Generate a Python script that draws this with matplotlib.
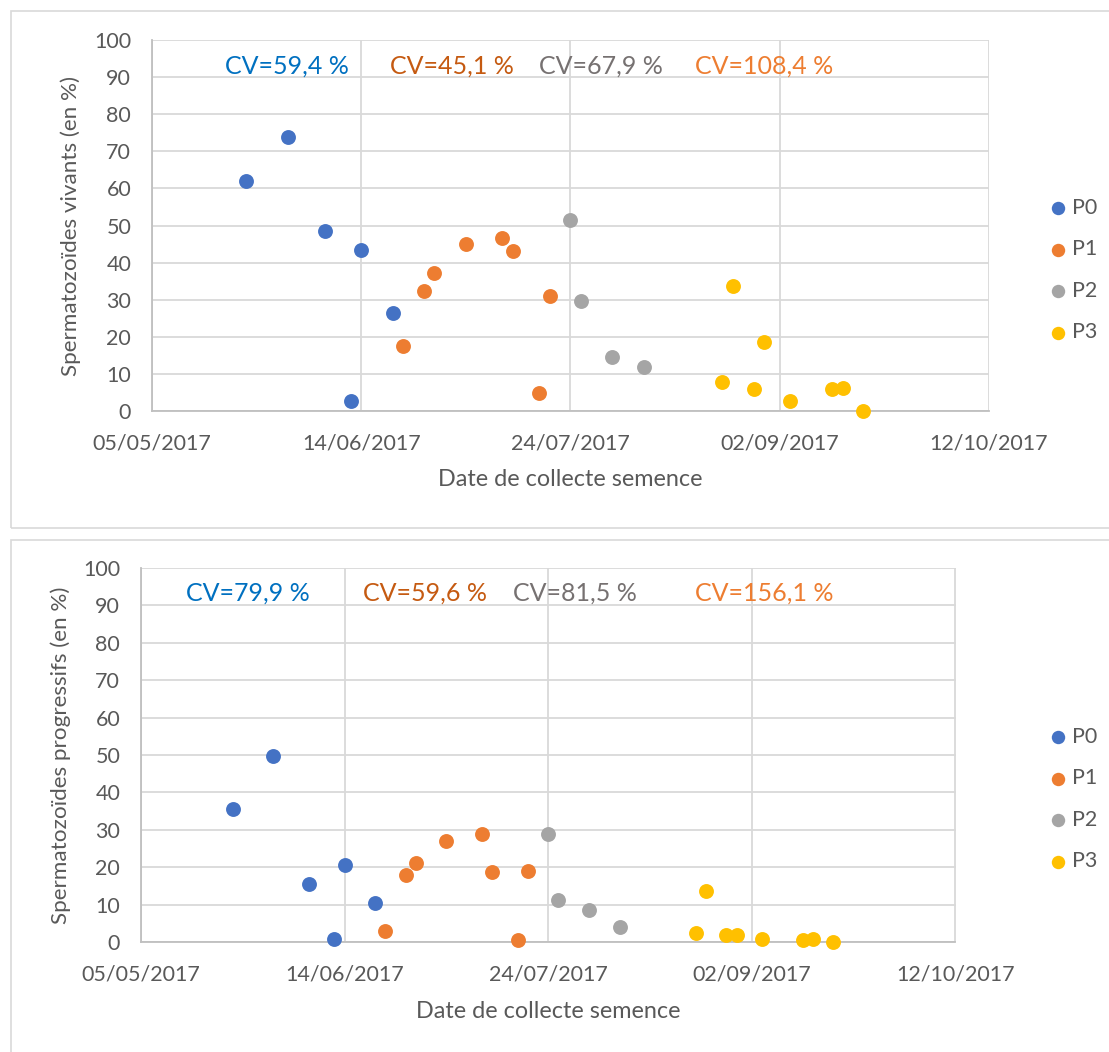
import matplotlib
matplotlib.use("Agg")
import matplotlib.pyplot as plt
import matplotlib.dates as mdates
from matplotlib.patches import Rectangle
from datetime import datetime

plt.rcParams['font.family'] = ['Lato', 'DejaVu Sans']

# ---- data ----
series_names = ["P0", "P1", "P2", "P3"]
colors = ["#4472C4", "#ED7D31", "#A5A5A5", "#FFC000"]

p0_dates = ["23/05/2017", "31/05/2017", "07/06/2017", "12/06/2017", "14/06/2017", "20/06/2017"]
p1_dates = ["22/06/2017", "26/06/2017", "28/06/2017", "04/07/2017", "11/07/2017", "13/07/2017", "18/07/2017", "20/07/2017"]
p2_dates = ["24/07/2017", "26/07/2017", "01/08/2017", "07/08/2017"]
p3_dates = ["22/08/2017", "24/08/2017", "28/08/2017", "30/08/2017", "04/09/2017", "12/09/2017", "14/09/2017", "18/09/2017"]

vivants_p0 = [62.1, 73.8, 48.5, 2.8, 43.4, 26.4]
vivants_p1 = [17.5, 32.4, 37.1, 45.0, 46.5, 43.2, 4.9, 31.0]
vivants_p2 = [51.4, 29.7, 14.5, 11.9]
vivants_p3 = [7.7, 33.7, 5.9, 18.5, 2.8, 5.9, 6.3, 0.0]

progressifs_p0 = [35.6, 49.6, 15.5, 0.8, 20.7, 10.4]
progressifs_p1 = [3.0, 17.8, 21.2, 27.0, 28.8, 18.6, 0.45, 18.9]
progressifs_p2 = [29.0, 11.2, 8.6, 4.1]
progressifs_p3 = [2.5, 13.7, 1.8, 2.0, 0.8, 0.5, 0.8, 0.0]

cv_vivants = ["CV=59,4 %", "CV=45,1 %", "CV=67,9 %", "CV=108,4 %"]
cv_progressifs = ["CV=79,9 %", "CV=59,6 %", "CV=81,5 %", "CV=156,1 %"]
cv_colors = ["#0070C0", "#C55A11", "#767171", "#ED7D31"]

x_ticks = ["05/05/2017", "14/06/2017", "24/07/2017", "02/09/2017", "12/10/2017"]
y_ticks = [0, 10, 20, 30, 40, 50, 60, 70, 80, 90, 100]

ylabel_top = "Spermatozoïdes vivants (en %)"
ylabel_bot = "Spermatozoïdes progressifs (en %)"
xlabel = "Date de collecte semence"

def to_num(lst):
    return [mdates.date2num(datetime.strptime(d, "%d/%m/%Y")) for d in lst]

all_dates = [p0_dates, p1_dates, p2_dates, p3_dates]

W, H = 1109, 1052
fig = plt.figure(figsize=(W / 100, H / 100), dpi=100)

def fx(px):
    return px / W

def fy(py):
    return 1 - py / H

# chart area boxes
for (top, bot) in [(11, 528), (540, 1060)]:
    fig.patches.append(Rectangle((fx(10.5), fy(bot)), fx(1200), fy(top) - fy(bot),
                                 transform=fig.transFigure, fill=False,
                                 edgecolor="#D9D9D9", linewidth=1.2))

text_col = "#595959"

def make_panel(rect_px, values, cvs, cv_x, cv_y, ylabel, ylab_x, xlab_y, leg_y):
    l, t, r, b = rect_px
    ax = fig.add_axes([fx(l), fy(b), fx(r - l), fy(t) - fy(b)])
    xt = to_num(x_ticks)
    for name, col, dts, vals in zip(series_names, colors, all_dates, values):
        ax.scatter(to_num(dts), vals, s=115, color=col, label=name,
                   zorder=3, clip_on=False, linewidths=0)
    ax.set_xlim(xt[0], xt[-1])
    ax.set_ylim(0, 100)
    ax.set_xticks(xt)
    ax.set_xticklabels(x_ticks)
    ax.set_yticks(y_ticks)
    ax.grid(True, color="#D9D9D9", linewidth=1.3)
    ax.set_axisbelow(True)
    for s in ["top", "right"]:
        ax.spines[s].set_visible(False)
    for s in ["left", "bottom"]:
        ax.spines[s].set_color("#BFBFBF")
        ax.spines[s].set_linewidth(1.3)
    ax.tick_params(length=0, labelsize=15.5, labelcolor=text_col)
    ax.tick_params(axis="y", pad=15)
    ax.tick_params(axis="x", pad=16)
    for txt, col, x in zip(cvs, cv_colors, cv_x):
        fig.text(fx(x), fy(cv_y), txt, color=col, fontsize=18,
                 ha="center", va="center")
    fig.text(fx(ylab_x), fy((t + b) / 2), ylabel, rotation=90, fontsize=16.2,
             color=text_col, ha="center", va="center")
    fig.text(fx((l + r) / 2), fy(xlab_y), xlabel, fontsize=16.8,
             color=text_col, ha="center", va="center")
    fig.legend(*ax.get_legend_handles_labels(), loc="center left",
               bbox_to_anchor=(fx(1052), fy(leg_y)), frameon=False,
               fontsize=15.5, labelcolor=text_col, handlelength=0.6,
               handletextpad=0.35, labelspacing=1.0, borderpad=0,
               borderaxespad=0, markerscale=0.9)
    return ax

make_panel((152, 40, 989, 411),
           [vivants_p0, vivants_p1, vivants_p2, vivants_p3],
           cv_vivants, [287, 452, 601, 764], 66, ylabel_top, 71, 480, 270)
make_panel((141, 568, 955.5, 942),
           [progressifs_p0, progressifs_p1, progressifs_p2, progressifs_p3],
           cv_progressifs, [248, 425, 575, 764], 593, ylabel_bot, 61, 1011, 799)

fig.savefig("out.png", dpi=100)
